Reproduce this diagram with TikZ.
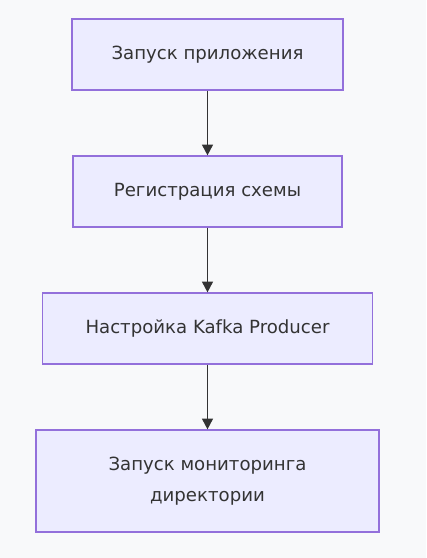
\documentclass[tikz,border=0pt]{standalone}
\usepackage{fontspec}
\setmainfont{DejaVu Sans}
\usetikzlibrary{arrows.meta}

\definecolor{boxfill}{HTML}{ECECFF}
\definecolor{boxline}{HTML}{9370DB}
\definecolor{textcol}{HTML}{333333}
\definecolor{bgcol}{HTML}{F8F9FA}

\begin{document}
\begin{tikzpicture}[x=0.75pt,y=-0.75pt,
	stage/.style={draw=boxline,fill=boxfill,line width=0.9pt,text=textcol,
		font=\fontsize{13.6}{23.5}\selectfont,align=center,inner sep=0pt,
		minimum height=53.25pt},
	flow/.style={draw=textcol,line width=1.4pt,-{Triangle[length=8pt,width=8pt]}}]
	%Background
	\fill [bgcol] (0,0) rectangle (426,558);
	\useasboundingbox (0,0) rectangle (426,558);

	%Stage 1
	\node [stage,minimum width=203.25pt] (launch) at (207.5,54.5) {Запуск приложения};
	%Stage 2
	\node [stage,minimum width=201.75pt] (schema) at (207.5,191.5) {Регистрация схемы};
	%Stage 3
	\node [stage,minimum width=247.5pt] (producer) at (207.5,328.5) {Настройка Kafka Producer};
	%Stage 4
	\node [stage,minimum width=257.25pt,minimum height=76.5pt] (monitor) at (207.5,481) {Запуск мониторинга\\директории};

	%Arrows
	\draw [flow] (launch) -- (schema);
	\draw [flow] (schema) -- (producer);
	\draw [flow] (producer) -- (monitor);
\end{tikzpicture}
\end{document}
